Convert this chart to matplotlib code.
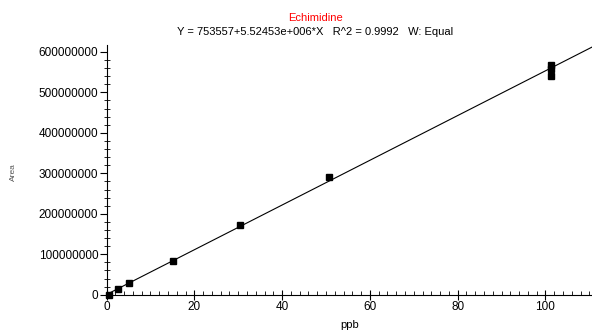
import numpy as np
import matplotlib.pyplot as plt
from matplotlib.ticker import MultipleLocator, FormatStrFormatter

plt.rcParams['font.family'] = ['Liberation Sans', 'DejaVu Sans']

# calibration points (ppb vs area)
conc = [0.5, 2.5, 5.1, 15.1, 30.3, 50.6, 101.2, 101.2, 101.2]
area = [0.5e6, 13.5e6, 28e6, 84e6, 171.5e6, 291.5e6, 541e6, 557e6, 568e6]

# fit  Y = a + b*X
intercept = 753557
slope = 5.52453e6

fig = plt.figure(figsize=(5.92, 3.30), dpi=100)
ax = fig.add_axes([0.180, 0.1067, 0.820, 0.757])

xl = np.array([0, 110.6])
ax.plot(xl, intercept + slope * xl, color='black', lw=0.8, zorder=2)
ax.plot(conc, area, 's', color='black', ms=5, zorder=3, clip_on=False)

ax.set_xlim(0, 110.6)
ax.set_ylim(0, 617e6)

for s in ['top', 'right']:
    ax.spines[s].set_visible(False)
ax.spines['left'].set_linewidth(0.8)
ax.spines['bottom'].set_linewidth(0.8)

ax.xaxis.set_major_locator(MultipleLocator(20))
ax.xaxis.set_minor_locator(MultipleLocator(2))
ax.yaxis.set_major_locator(MultipleLocator(100e6))
ax.yaxis.set_minor_locator(MultipleLocator(20e6))
ax.yaxis.set_major_formatter(FormatStrFormatter('%d'))

ax.tick_params(axis='x', which='major', direction='inout', length=7, width=0.8,
               labelsize=8.5, pad=1)
ax.tick_params(axis='x', which='minor', direction='in', length=3, width=0.6)
ax.tick_params(axis='y', which='major', direction='out', length=5, width=0.8,
               labelsize=8.5, pad=1)
ax.tick_params(axis='y', which='minor', direction='inout', length=5, width=0.6)

ax.set_xlabel('ppb', fontsize=8, labelpad=5)
fig.text(0.022, 0.479, 'Area', rotation=90, fontsize=6, color='#555555',
         ha='center', va='center')

fig.text(0.533, 0.962, 'Echimidine', color='red', fontsize=8, ha='center', va='top')
fig.text(0.533, 0.918, 'Y = 753557+5.52453e+006*X   R^2 = 0.9992   W: Equal',
         color='black', fontsize=8, ha='center', va='top')

fig.savefig('out.png', dpi=100)
